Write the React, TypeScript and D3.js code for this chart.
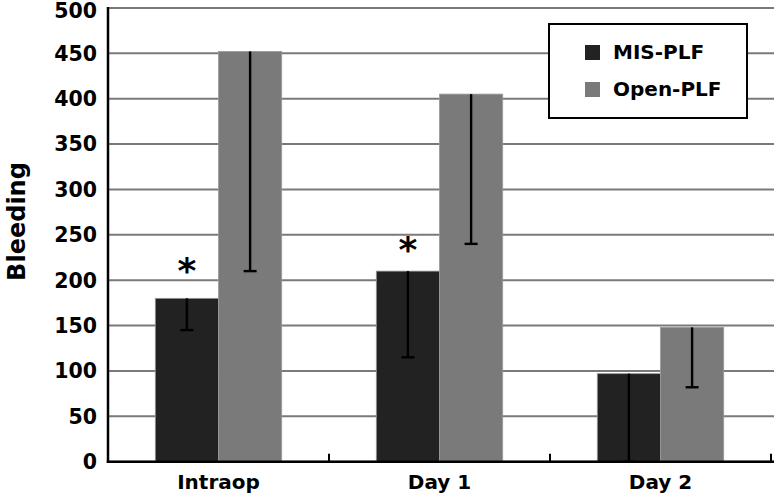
import React from "react";
import * as d3 from "d3";

const categories = ["Intraop", "Day 1", "Day 2"];
const seriesNames = ["MIS-PLF", "Open-PLF"];
const misValues = [180, 210, 97];
const misLower = [145, 115, 0];
const openValues = [452, 405, 148];
const openLower = [210, 240, 82];
const misSignificant = [true, true, false];
const sigLevel = [212, 235, 0];
const yTicks = [0, 50, 100, 150, 200, 250, 300, 350, 400, 450, 500];
const colors = ["#222222", "#7a7a7a"];

const W = 774;
const H = 496;
const left = 108;
const right = 771;
const top = 7.9;
const bottom = 461.7;
const FONT = "'DejaVu Sans', Verdana, sans-serif";

export default function App() {
  const y = d3.scaleLinear().domain([0, 500]).range([bottom, top]);
  const x0 = d3.scaleBand<string>().domain(categories).range([left, right]).padding(0);
  const step = x0.bandwidth();
  const groupW = step * 0.572;
  const x1 = d3
    .scaleBand<string>()
    .domain(seriesNames)
    .range([(step - groupW) / 2, (step + groupW) / 2])
    .padding(0);
  const bw = x1.bandwidth();

  const series = [
    { name: seriesNames[0], values: misValues, lower: misLower, color: colors[0] },
    { name: seriesNames[1], values: openValues, lower: openLower, color: colors[1] },
  ];

  return (
    <svg
      width={W}
      height={H}
      style={{ position: "absolute", left: 0, top: 0, background: "#fff" }}
      fontFamily={FONT}
    >
      <rect x={0} y={0} width={W} height={H} fill="#fff" />
      {/* gridlines */}
      {yTicks.map((t) => (
        <line
          key={"g" + t}
          x1={left}
          x2={right + 3}
          y1={y(t)}
          y2={y(t)}
          stroke="#7a7a7a"
          strokeWidth={2}
        />
      ))}
      {/* bars */}
      {series.map((s) =>
        categories.map((c, i) => (
          <rect
            key={s.name + c}
            x={x0(c)! + x1(s.name)!}
            y={y(s.values[i])}
            width={bw}
            height={y(0) - y(s.values[i])}
            fill={s.color}
            stroke="#9a9a9a"
            strokeWidth={0.8}
          />
        ))
      )}
      {/* error bars */}
      {series.map((s) =>
        categories.map((c, i) => {
          const cx = x0(c)! + x1(s.name)! + bw / 2;
          return (
            <g key={"e" + s.name + c}>
              <line
                x1={cx}
                x2={cx}
                y1={y(s.values[i])}
                y2={y(s.lower[i])}
                stroke="#000"
                strokeWidth={2.4}
              />
              <line
                x1={cx - 6.5}
                x2={cx + 6.5}
                y1={y(s.lower[i])}
                y2={y(s.lower[i])}
                stroke="#000"
                strokeWidth={2.4}
              />
            </g>
          );
        })
      )}
      {/* significance markers */}
      {categories.map((c, i) =>
        misSignificant[i] ? (
          <text
            key={"s" + c}
            x={x0(c)! + x1(seriesNames[0])! + bw / 2}
            y={y(sigLevel[i]) + 14}
            textAnchor="middle"
            fontSize={36}
            fontWeight="bold"
            fill="#000"
          >
            *
          </text>
        ) : null
      )}
      {/* axes */}
      <line x1={left} x2={left} y1={top - 1} y2={bottom + 1.2} stroke="#000" strokeWidth={2.5} />
      <line x1={left - 1.2} x2={right + 3} y1={bottom} y2={bottom} stroke="#000" strokeWidth={2.5} />
      {categories.map((c) => (
        <line
          key={"t" + c}
          x1={x0(c)! + step}
          x2={x0(c)! + step}
          y1={bottom}
          y2={bottom - 8}
          stroke="#000"
          strokeWidth={2}
        />
      ))}
      {/* y tick labels */}
      {yTicks.map((t) => (
        <text
          key={"yl" + t}
          x={97}
          y={Math.max(y(t), 11)}
          dy="0.36em"
          textAnchor="end"
          fontSize={20.5}
          fontWeight="bold"
          fill="#000"
        >
          {t}
        </text>
      ))}
      {/* x labels */}
      {categories.map((c) => (
        <text
          key={"xl" + c}
          x={x0(c)! + step / 2}
          y={489}
          textAnchor="middle"
          fontSize={20}
          fontWeight="bold"
          fill="#000"
        >
          {c}
        </text>
      ))}
      {/* y title */}
      <text
        transform={`translate(25,221.5) rotate(-90)`}
        textAnchor="middle"
        fontSize={24}
        fontWeight="bold"
        fill="#000"
      >
        Bleeding
      </text>
      {/* legend */}
      <rect x={549} y={24} width={198} height={94} fill="#fff" stroke="#000" strokeWidth={2} />
      {series.map((s, i) => (
        <g key={"lg" + s.name}>
          <rect x={585} y={45 + i * 37} width={15} height={15} fill={s.color} />
          <text x={613} y={59 + i * 37} fontSize={20} fontWeight="bold" fill="#000">
            {s.name}
          </text>
        </g>
      ))}
    </svg>
  );
}
